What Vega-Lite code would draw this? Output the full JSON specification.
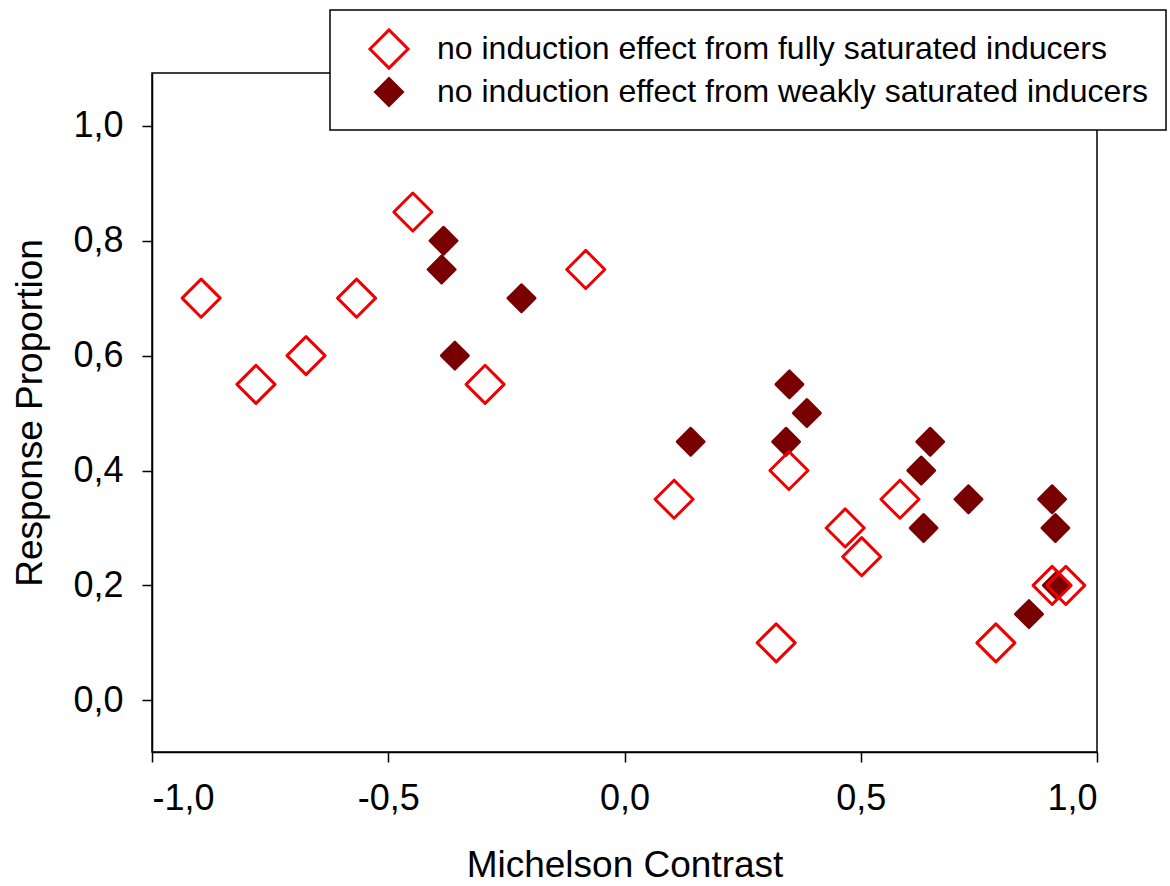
{
  "$schema": "https://vega.github.io/schema/vega-lite/v6.json",
  "width": 945,
  "height": 679,
  "autosize": "none",
  "padding": {"left": 152, "top": 73, "right": 73, "bottom": 134},
  "background": "white",
  "config": {
    "locale": {"number": {"decimal": ",", "thousands": ".", "grouping": [3], "currency": ["", " €"], "minus": "-"}},
    "view": {"stroke": "black", "strokeWidth": 1.5},
    "axis": {
      "grid": false,
      "domainColor": "black",
      "domainWidth": 1.5,
      "tickColor": "black",
      "tickWidth": 1.5,
      "tickSize": 10,
      "labelFont": "Liberation Sans",
      "labelFontSize": 36,
      "labelColor": "black",
      "titleFont": "Liberation Sans",
      "titleFontSize": 37,
      "titleFontWeight": "normal",
      "titleColor": "black"
    },
    "legend": {
      "labelFont": "Liberation Sans",
      "labelFontSize": 32,
      "labelColor": "black",
      "labelLimit": 2000,
      "labelOffset": 27,
      "symbolStrokeWidth": 3,
      "symbolOffset": 20,
      "rowPadding": -3,
      "padding": 18,
      "fillColor": "white",
      "strokeColor": "black",
      "strokeWidth": 1.5
    }
  },
  "data": {
    "values": [
      {"contrast": -0.383, "proportion": 0.80, "group": "no induction effect from weakly saturated inducers"},
      {"contrast": -0.387, "proportion": 0.75, "group": "no induction effect from weakly saturated inducers"},
      {"contrast": -0.218, "proportion": 0.70, "group": "no induction effect from weakly saturated inducers"},
      {"contrast": -0.359, "proportion": 0.60, "group": "no induction effect from weakly saturated inducers"},
      {"contrast": 0.140, "proportion": 0.45, "group": "no induction effect from weakly saturated inducers"},
      {"contrast": 0.349, "proportion": 0.55, "group": "no induction effect from weakly saturated inducers"},
      {"contrast": 0.342, "proportion": 0.45, "group": "no induction effect from weakly saturated inducers"},
      {"contrast": 0.386, "proportion": 0.50, "group": "no induction effect from weakly saturated inducers"},
      {"contrast": 0.628, "proportion": 0.40, "group": "no induction effect from weakly saturated inducers"},
      {"contrast": 0.647, "proportion": 0.45, "group": "no induction effect from weakly saturated inducers"},
      {"contrast": 0.633, "proportion": 0.30, "group": "no induction effect from weakly saturated inducers"},
      {"contrast": 0.728, "proportion": 0.35, "group": "no induction effect from weakly saturated inducers"},
      {"contrast": 0.905, "proportion": 0.35, "group": "no induction effect from weakly saturated inducers"},
      {"contrast": 0.912, "proportion": 0.30, "group": "no induction effect from weakly saturated inducers"},
      {"contrast": 0.856, "proportion": 0.15, "group": "no induction effect from weakly saturated inducers"},
      {"contrast": 0.915, "proportion": 0.20, "group": "no induction effect from weakly saturated inducers"},
      {"contrast": -0.896, "proportion": 0.70, "group": "no induction effect from fully saturated inducers"},
      {"contrast": -0.780, "proportion": 0.55, "group": "no induction effect from fully saturated inducers"},
      {"contrast": -0.674, "proportion": 0.60, "group": "no induction effect from fully saturated inducers"},
      {"contrast": -0.567, "proportion": 0.70, "group": "no induction effect from fully saturated inducers"},
      {"contrast": -0.448, "proportion": 0.85, "group": "no induction effect from fully saturated inducers"},
      {"contrast": -0.295, "proportion": 0.55, "group": "no induction effect from fully saturated inducers"},
      {"contrast": -0.082, "proportion": 0.75, "group": "no induction effect from fully saturated inducers"},
      {"contrast": 0.105, "proportion": 0.35, "group": "no induction effect from fully saturated inducers"},
      {"contrast": 0.321, "proportion": 0.10, "group": "no induction effect from fully saturated inducers"},
      {"contrast": 0.348, "proportion": 0.40, "group": "no induction effect from fully saturated inducers"},
      {"contrast": 0.467, "proportion": 0.30, "group": "no induction effect from fully saturated inducers"},
      {"contrast": 0.502, "proportion": 0.25, "group": "no induction effect from fully saturated inducers"},
      {"contrast": 0.583, "proportion": 0.35, "group": "no induction effect from fully saturated inducers"},
      {"contrast": 0.786, "proportion": 0.10, "group": "no induction effect from fully saturated inducers"},
      {"contrast": 0.905, "proportion": 0.20, "group": "no induction effect from fully saturated inducers"},
      {"contrast": 0.934, "proportion": 0.20, "group": "no induction effect from fully saturated inducers"}
    ]
  },
  "mark": {"type": "point", "shape": "diamond", "filled": true, "strokeWidth": 3, "opacity": 1, "strokeJoin": "round"},
  "encoding": {
    "x": {
      "field": "contrast",
      "type": "quantitative",
      "scale": {"domain": [-1, 1], "nice": false, "zero": false},
      "axis": {"values": [-1, -0.5, 0, 0.5, 1], "format": ".1f", "title": "Michelson Contrast", "labelPadding": 19, "titleY": 113, "titleBaseline": "middle"}
    },
    "y": {
      "field": "proportion",
      "type": "quantitative",
      "scale": {"domain": [-0.09, 1.092], "nice": false, "zero": false},
      "axis": {"values": [0, 0.2, 0.4, 0.6, 0.8, 1], "format": ".1f", "title": "Response Proportion", "labelPadding": 19, "titleX": -122, "titleBaseline": "middle"}
    },
    "fill": {
      "field": "group",
      "type": "nominal",
      "scale": {"domain": ["no induction effect from fully saturated inducers", "no induction effect from weakly saturated inducers"], "range": ["transparent", "#780000"]},
      "legend": {"title": null, "orient": "none", "legendX": 178, "legendY": -63}
    },
    "stroke": {
      "field": "group",
      "type": "nominal",
      "scale": {"domain": ["no induction effect from fully saturated inducers", "no induction effect from weakly saturated inducers"], "range": ["#f00000", "#780000"]},
      "legend": {"title": null, "orient": "none", "legendX": 178, "legendY": -63}
    },
    "size": {
      "field": "group",
      "type": "nominal",
      "scale": {"domain": ["no induction effect from fully saturated inducers", "no induction effect from weakly saturated inducers"], "range": [1450, 720]},
      "legend": {"title": null, "orient": "none", "legendX": 178, "legendY": -63}
    }
  }
}
